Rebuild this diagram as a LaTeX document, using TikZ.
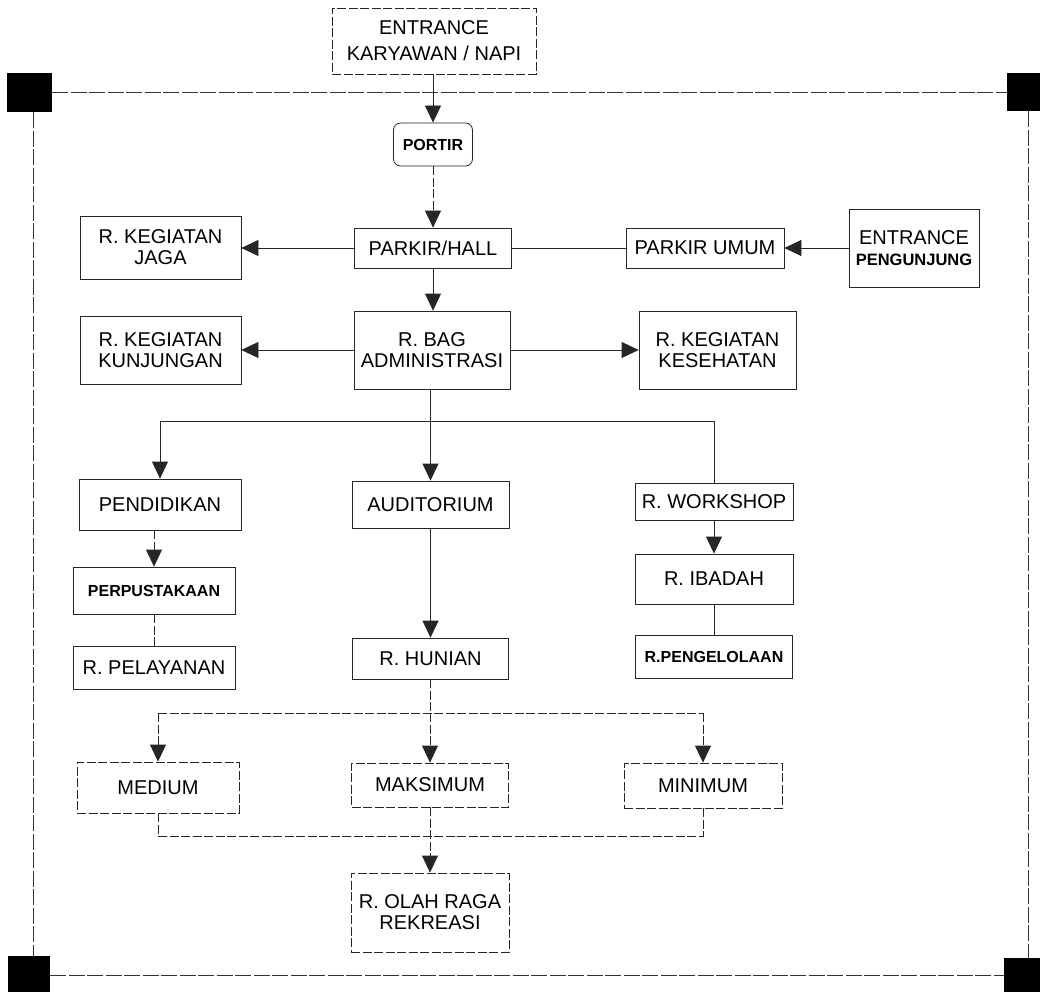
\documentclass[tikz,border=0pt]{standalone}
\usepackage{fontspec}
\setmainfont{Liberation Sans}
\usetikzlibrary{arrows.meta}
\tikzset{
  box/.style={draw=black!85, line width=0.8pt, inner sep=0pt, align=center,
    font=\fontsize{20}{21}\selectfont},
  dbox/.style={box, dash pattern=on 9pt off 2.5pt},
  small/.style={font=\fontsize{16}{19}\selectfont\bfseries},
  conn/.style={draw=black!85, line width=0.8pt},
  dconn/.style={conn, dash pattern=on 9pt off 2.5pt},
  arr/.style={-{Triangle[width=16pt,length=17pt]}},
  bord/.style={draw=black!80, line width=0.8pt, dash pattern=on 16pt off 2.5pt},
  corner/.style={fill=black, draw=none, inner sep=0pt, anchor=north west}
}
\begin{document}
\begin{tikzpicture}[x=1pt,y=-1pt]
\useasboundingbox (0,0) rectangle (1040,992);
% corner squares
\node[corner, minimum width=45pt, minimum height=39pt] (c1) at (7,73) {};
\node[corner, minimum width=33pt, minimum height=38pt] (c2) at (1007,73) {};
\node[corner, minimum width=42pt, minimum height=36pt] (c3) at (8,956) {};
\node[corner, minimum width=36pt, minimum height=34pt] (c4) at (1004,958) {};
\coordinate (bT) at (0,92);
\coordinate (bB) at (0,975);
\coordinate (bL) at (33,0);
\coordinate (bR) at (1028,0);
\draw[bord] (c1.east |- bT) -- (c2.west |- bT);
\draw[bord] (c3.east |- bB) -- (c4.west |- bB);
\draw[bord] (bL |- c1.south) -- (bL |- c3.north);
\draw[bord] (bR |- c2.south) -- (bR |- c4.north);

% nodes
\node[dbox, minimum width=204pt, minimum height=66pt, font=\fontsize{20}{26}\selectfont] (ek) at (434,41) {ENTRANCE\\KARYAWAN / NAPI};
\node[box, small, rounded corners=7pt, minimum width=79pt, minimum height=43pt] (portir) at (433,144.5) {PORTIR};
\node[box, minimum width=157pt, minimum height=40pt] (hall) at (433,248) {PARKIR/HALL};
\node[box, minimum width=161pt, minimum height=63pt] (jaga) at (160.5,247.5) {R. KEGIATAN\\JAGA};
\node[box, minimum width=158pt, minimum height=40pt] (umum) at (705,248) {PARKIR UMUM};
\node[box, minimum width=130pt, minimum height=78pt] (ep) at (914,248) {ENTRANCE\\{\fontsize{16.5}{19}\selectfont\bfseries PENGUNJUNG}};
\node[box, minimum width=156pt, minimum height=78pt] (adm) at (432,350) {R. BAG\\ADMINISTRASI};
\node[box, minimum width=161pt, minimum height=68pt] (kunj) at (160.5,350) {R. KEGIATAN\\KUNJUNGAN};
\node[box, minimum width=157pt, minimum height=78pt] (kes) at (717.5,350) {R. KEGIATAN\\KESEHATAN};
\node[box, minimum width=162pt, minimum height=51pt] (pend) at (160,504.5) {PENDIDIKAN};
\node[box, minimum width=157pt, minimum height=47pt] (aud) at (430.5,504.5) {AUDITORIUM};
\node[box, minimum width=158pt, minimum height=37pt] (work) at (714,501.5) {R. WORKSHOP};
\node[box, small, minimum width=162pt, minimum height=47pt] (perp) at (154,590.5) {PERPUSTAKAAN};
\node[box, minimum width=162pt, minimum height=43pt] (pel) at (154,667.5) {R. PELAYANAN};
\node[box, minimum width=156pt, minimum height=41pt] (hun) at (430.5,658.5) {R. HUNIAN};
\node[box, minimum width=158pt, minimum height=50pt] (iba) at (714,579) {R. IBADAH};
\node[box, small, minimum width=157pt, minimum height=43pt] (peng) at (714,656.5) {R.PENGELOLAAN};
\node[dbox, minimum width=162pt, minimum height=51pt] (med) at (158,787.5) {MEDIUM};
\node[dbox, minimum width=157pt, minimum height=44pt] (maks) at (430,785) {MAKSIMUM};
\node[dbox, minimum width=158pt, minimum height=45pt] (mini) at (703,785.5) {MINIMUM};
\node[dbox, minimum width=158pt, minimum height=79pt] (olah) at (430,912.5) {R. OLAH RAGA\\REKREASI};

% connectors
\draw[conn, arr] (portir.north |- ek.south) -- (portir.north);
\draw[dconn, arr] (portir.south) -- (portir.south |- hall.north);
\draw[conn, arr] (hall.west) -- (jaga.east |- hall.west);
\draw[conn] (hall.east) -- (umum.west);
\draw[conn, arr] (ep.west) -- (umum.east);
\draw[conn, arr] (hall.south) -- (hall.south |- adm.north);
\draw[conn, arr] (adm.west) -- (kunj.east);
\draw[conn, arr] (adm.east) -- (kes.west);

\coordinate (bus1) at (0,421);
\draw[conn] (aud.north |- adm.south) -- (aud.north |- bus1);
\draw[conn] (pend.north |- bus1) -- (work.north |- bus1);
\draw[conn, arr] (pend.north |- bus1) -- (pend.north);
\draw[conn, arr] (aud.north |- bus1) -- (aud.north);
\draw[conn] (work.north |- bus1) -- (work.north);

\draw[dconn, arr] (perp.north |- pend.south) -- (perp.north);
\draw[dconn] (perp.south) -- (pel.north);
\draw[conn, arr] (aud.south) -- (aud.south |- hun.north);
\draw[conn, arr] (work.south) -- (iba.north);
\draw[conn] (iba.south) -- (peng.north);

\coordinate (bus2) at (0,713);
\draw[dconn] (maks.north |- hun.south) -- (maks.north |- bus2);
\draw[dconn] (med.north |- bus2) -- (mini.north |- bus2);
\draw[dconn, arr] (med.north |- bus2) -- (med.north);
\draw[dconn, arr] (maks.north |- bus2) -- (maks.north);
\draw[dconn, arr] (mini.north |- bus2) -- (mini.north);

\coordinate (bus3) at (0,836);
\draw[dconn] (med.south) -- (med.south |- bus3) -- (mini.south |- bus3) -- (mini.south);
\draw[dconn, arr] (maks.south) -- (olah.north);
\end{tikzpicture}
\end{document}
